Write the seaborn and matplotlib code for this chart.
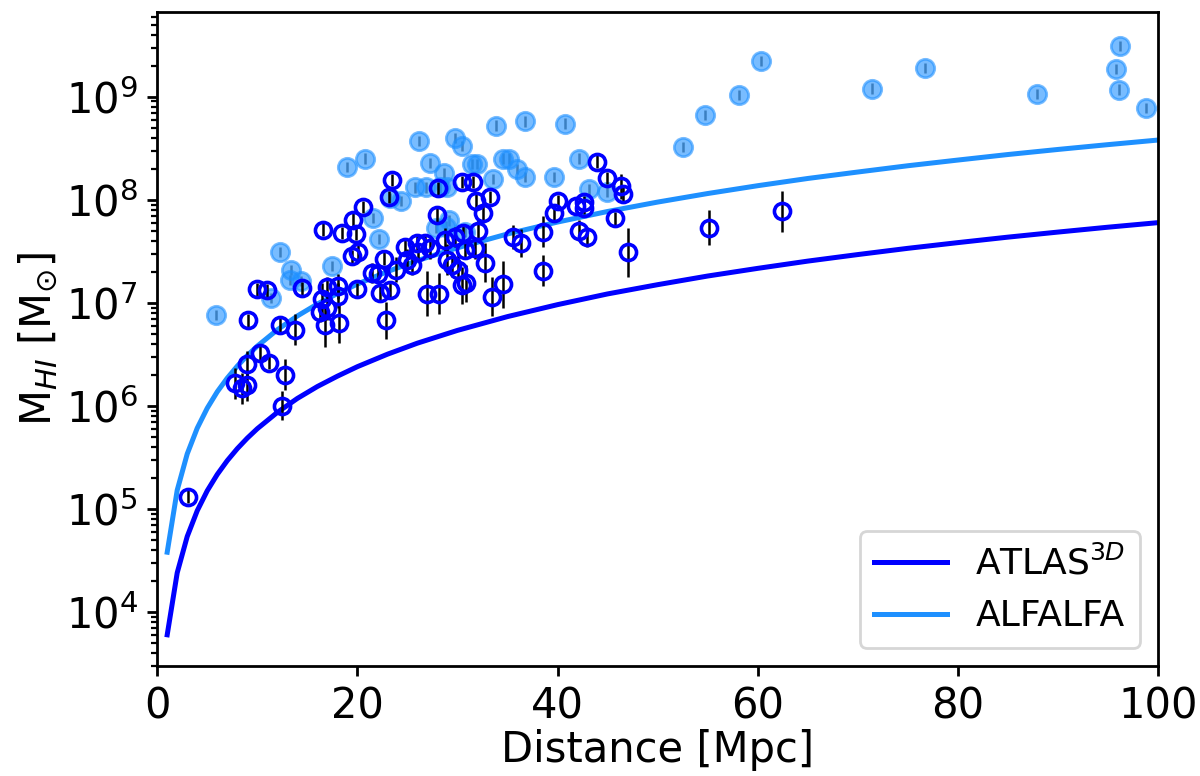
import numpy as np
import matplotlib
matplotlib.use("Agg")
import matplotlib.pyplot as plt
import seaborn as sns

# sensitivity limits, HI mass vs distance
curve_dist = [1, 2, 3, 4, 5, 6, 7, 8, 9, 10, 12, 14, 16, 18, 20, 23, 26, 30, 35, 40,
              45, 50, 55, 60, 65, 70, 75, 80, 85, 90, 95, 100]
atlas_limit = [6.0e3, 2.4e4, 5.4e4, 9.6e4, 1.5e5, 2.16e5, 2.94e5, 3.84e5, 4.86e5, 6.0e5,
               8.64e5, 1.18e6, 1.54e6, 1.94e6, 2.4e6, 3.17e6, 4.06e6, 5.4e6, 7.35e6, 9.6e6,
               1.22e7, 1.5e7, 1.82e7, 2.16e7, 2.54e7, 2.94e7, 3.38e7, 3.84e7, 4.34e7, 4.86e7,
               5.42e7, 6.0e7]
alfalfa_limit = [3.8e4, 1.52e5, 3.42e5, 6.08e5, 9.5e5, 1.37e6, 1.86e6, 2.43e6, 3.08e6, 3.8e6,
                 5.47e6, 7.45e6, 9.73e6, 1.23e7, 1.52e7, 2.01e7, 2.57e7, 3.42e7, 4.66e7, 6.08e7,
                 7.7e7, 9.5e7, 1.15e8, 1.37e8, 1.61e8, 1.86e8, 2.14e8, 2.43e8, 2.75e8, 3.08e8,
                 3.43e8, 3.8e8]

# ALFALFA detections (filled light circles), log M_HI
alf_dist = [5.9, 12.3, 13.4, 13.3, 14.4, 11.4, 17.5, 19.0, 20.8, 21.6, 22.2, 23.3, 24.4,
            26.2, 29.8, 30.5, 33.9, 36.8, 40.7, 27.3, 28.7, 31.5, 32.0, 25.8, 26.9, 28.3,
            29.0, 33.6, 34.6, 35.2, 36.0, 36.8, 39.6, 42.1, 29.2, 27.9, 28.9, 30.8, 43.1,
            44.9, 52.5, 54.7, 58.1, 60.3, 71.4, 76.7, 87.9, 96.2, 95.8, 96.1, 98.8]
alf_logm = [6.88, 7.49, 7.32, 7.22, 7.21, 7.05, 7.36, 8.32, 8.40, 7.82, 7.62, 8.02, 7.99,
            8.57, 8.60, 8.52, 8.72, 8.76, 8.74, 8.36, 8.26, 8.35, 8.35, 8.12, 8.12, 8.12,
            8.12, 8.20, 8.40, 8.40, 8.30, 8.22, 8.22, 8.40, 7.80, 7.73, 7.74, 7.69, 8.10,
            8.08, 8.51, 8.82, 9.02, 9.35, 9.08, 9.28, 9.03, 9.49, 9.27, 9.07, 8.89]
alf_err_dex = 0.05

# ATLAS3D detections (open dark circles), log M_HI and error in dex
atl_dist = [3.1, 7.8, 8.5, 9.0, 9.0, 10.3, 11.2, 12.5, 12.8, 9.1, 12.3, 13.8, 10.0, 11.0,
            14.5, 16.6, 18.5, 19.9, 19.6, 20.6, 23.5, 19.5, 20.1, 16.5, 17.0, 18.1, 16.3,
            17.0, 16.8, 18.2, 20.0, 21.5, 22.1, 22.3, 23.3, 22.7, 22.9, 23.2, 28.1, 28.0,
            30.5, 31.6, 31.9, 33.3, 32.6, 32.1, 30.6, 31.8, 30.8, 24.8, 26.0, 26.8, 27.3,
            26.1, 28.8, 29.8, 25.0, 25.5, 23.9, 29.0, 29.5, 30.1, 32.8, 30.5, 30.9, 27.0,
            28.2, 33.5, 34.6, 38.5, 38.5, 35.6, 36.4, 39.6, 40.0, 41.8, 42.6, 42.6, 42.1,
            42.9, 43.9, 44.9, 46.3, 46.5, 45.7, 47.0, 55.1, 62.4, 18.1]
atl_logm = [5.12, 6.22, 6.17, 6.20, 6.41, 6.51, 6.42, 6.00, 6.30, 6.83, 6.78, 6.74, 7.13,
            7.12, 7.14, 7.71, 7.68, 7.67, 7.80, 7.93, 8.19, 7.45, 7.49, 7.04, 7.15, 7.16,
            6.91, 6.95, 6.78, 6.80, 7.13, 7.29, 7.28, 7.10, 7.12, 7.43, 6.83, 8.03, 8.11,
            7.85, 8.17, 8.17, 7.99, 8.03, 7.87, 7.70, 7.68, 7.53, 7.51, 7.54, 7.58, 7.58,
            7.53, 7.49, 7.61, 7.64, 7.42, 7.37, 7.32, 7.42, 7.37, 7.32, 7.39, 7.17, 7.19,
            7.09, 7.09, 7.06, 7.18, 7.69, 7.31, 7.64, 7.58, 7.87, 7.99, 7.94, 7.98, 7.92,
            7.70, 7.64, 8.37, 8.21, 8.13, 8.06, 7.82, 7.49, 7.73, 7.89, 7.07]
atl_err_dex = [0.06, 0.15, 0.15, 0.15, 0.12, 0.07, 0.06, 0.14, 0.15, 0.06, 0.08, 0.15, 0.06,
               0.06, 0.06, 0.06, 0.06, 0.06, 0.08, 0.06, 0.06, 0.06, 0.07, 0.15, 0.10, 0.12,
               0.10, 0.12, 0.21, 0.19, 0.06, 0.10, 0.06, 0.08, 0.08, 0.06, 0.18, 0.06, 0.06,
               0.08, 0.06, 0.06, 0.08, 0.06, 0.10, 0.10, 0.08, 0.10, 0.08, 0.08, 0.08, 0.08,
               0.10, 0.08, 0.12, 0.10, 0.10, 0.10, 0.12, 0.15, 0.12, 0.15, 0.19, 0.18, 0.18,
               0.22, 0.20, 0.19, 0.23, 0.15, 0.15, 0.12, 0.14, 0.08, 0.06, 0.06, 0.06, 0.06,
               0.10, 0.10, 0.06, 0.06, 0.12, 0.08, 0.06, 0.24, 0.17, 0.20, 0.12]


def log_errors(logm, err):
    logm = np.asarray(logm)
    m = 10 ** logm
    return m, [m - 10 ** (logm - err), 10 ** (logm + err) - m]


fig, ax = plt.subplots(figsize=(6, 3.88), dpi=200)
fig.subplots_adjust(left=0.131, right=0.965, top=0.985, bottom=0.142)

sns.lineplot(x=curve_dist, y=atlas_limit, color='blue', lw=1.8,
             label=r'ATLAS$^{3D}$', ax=ax, zorder=2)
sns.lineplot(x=curve_dist, y=alfalfa_limit, color='dodgerblue', lw=1.8,
             label='ALFALFA', ax=ax, zorder=2)

m_alf, e_alf = log_errors(alf_logm, alf_err_dex)
ax.errorbar(alf_dist, m_alf, yerr=e_alf, fmt='o', color='dodgerblue', alpha=0.6,
            ms=6.6, mew=1.0, ecolor='k', elinewidth=0.9, zorder=3)

m_atl, e_atl = log_errors(atl_logm, np.asarray(atl_err_dex))
ax.errorbar(atl_dist, m_atl, yerr=e_atl, fmt='o', mfc='none', mec='blue',
            ms=5.8, mew=1.3, ecolor='k', elinewidth=0.9, zorder=4)

ax.set_yscale('log')
ax.set_xlim(0, 100)
ax.set_ylim(3.0e3, 6.7e9)
ax.set_xlabel('Distance [Mpc]', fontsize=15, labelpad=0.5)
ax.set_ylabel(r'M$_{HI}$ [M$_{\odot}$]', fontsize=15, labelpad=2)
ax.tick_params(axis='both', which='major', labelsize=15, width=1.0)
ax.tick_params(axis='both', which='minor', width=0.8)
for sp in ax.spines.values():
    sp.set_linewidth(1.0)
ax.legend(loc='lower right', fontsize=13)

fig.savefig('out.png', dpi=200)
